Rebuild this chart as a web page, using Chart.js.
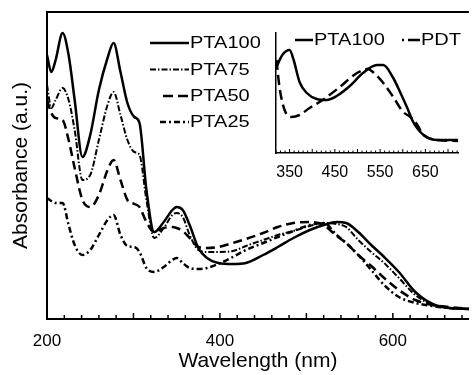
<!DOCTYPE html>
<html>
<head>
<meta charset="utf-8">
<script src="https://cdn.jsdelivr.net/npm/chart.js@4.4.1/dist/chart.umd.min.js"></script>
<style>
  body { margin: 0; background: #fff; }
  #wrap { position: relative; width: 474px; height: 375px; overflow: hidden; }
  #mainChart { position: absolute; left: 0; top: 0; }
  #insetChart { position: absolute; left: 250px; top: 25px; }
</style>
</head>
<body>
<div id="wrap">
  <canvas id="mainChart" width="474" height="375"></canvas>
  <canvas id="insetChart" width="224" height="165"></canvas>
</div>
<script>
// main spectra (a.u.)
var wavelengths = [200, 205, 210, 218, 225, 232, 241, 250, 260, 270, 277, 285, 293, 301, 307, 315, 324, 335, 345, 350, 357,
                   365, 375, 385, 398, 415, 430, 450, 467, 485, 504, 520, 535, 546, 560, 575, 590, 607, 626, 646, 665, 690];
var pta100 = [2.64, 2.47, 2.59, 2.86, 2.64, 2.19, 1.62, 1.84, 2.29, 2.61, 2.76, 2.47, 2.16, 2.02, 1.96, 1.29, 0.87, 0.97, 1.09, 1.12, 1.09,
              0.94, 0.71, 0.61, 0.56, 0.55, 0.56, 0.64, 0.72, 0.81, 0.89, 0.94, 0.97, 0.96, 0.87, 0.74, 0.62, 0.47, 0.27, 0.15, 0.11, 0.10];
var pta75 = [2.34, 2.11, 2.19, 2.31, 2.19, 1.89, 1.39, 1.44, 1.79, 2.14, 2.27, 2.04, 1.79, 1.67, 1.64, 1.19, 0.81, 0.91, 1.04, 1.06, 1.02,
             0.84, 0.69, 0.67, 0.67, 0.68, 0.73, 0.79, 0.84, 0.88, 0.93, 0.96, 0.95, 0.92, 0.79, 0.67, 0.56, 0.41, 0.24, 0.14, 0.11, 0.10];
var pta50 = [2.19, 2.06, 2.01, 1.99, 1.79, 1.51, 1.19, 1.12, 1.24, 1.49, 1.59, 1.39, 1.19, 1.15, 1.12, 0.97, 0.87, 0.91, 0.92, 0.91, 0.88,
             0.81, 0.72, 0.71, 0.72, 0.76, 0.80, 0.86, 0.92, 0.96, 0.97, 0.94, 0.83, 0.76, 0.64, 0.53, 0.41, 0.29, 0.19, 0.14, 0.12, 0.10];
var pta25 = [1.21, 1.18, 1.16, 1.16, 0.94, 0.74, 0.64, 0.69, 0.84, 0.99, 1.04, 0.84, 0.73, 0.72, 0.67, 0.51, 0.47, 0.52, 0.59, 0.61, 0.56,
             0.51, 0.50, 0.51, 0.55, 0.62, 0.69, 0.76, 0.82, 0.88, 0.94, 0.96, 0.84, 0.76, 0.64, 0.49, 0.34, 0.22, 0.16, 0.13, 0.11, 0.10];
var mainLabels = [200, 400, 600];

// inset spectra
var insetWlPta = [321, 334, 350, 359, 372, 388, 410, 432, 454, 483, 512, 543, 557, 579, 594, 610, 623, 646, 677, 722];
var insetPta = [0.86, 0.98, 1.03, 0.93, 0.71, 0.60, 0.54, 0.53, 0.57, 0.67, 0.80, 0.88, 0.88, 0.75, 0.61, 0.45, 0.31, 0.18, 0.13, 0.13];
var insetWlPdt = [321, 328, 339, 354, 372, 394, 423, 461, 499, 523, 534, 557, 579, 601, 617, 628, 646, 677, 722];
var insetPdt = [0.93, 0.65, 0.43, 0.36, 0.38, 0.45, 0.53, 0.66, 0.80, 0.84, 0.81, 0.70, 0.56, 0.41, 0.36, 0.31, 0.18, 0.13, 0.12];
var insetLabels = [350, 450, 550, 650];

function pts(xs, ys) {
    return xs.map(function (x, i) { return { x: x, y: ys[i] }; });
}

Chart.defaults.font.family = '"Liberation Sans", Arial, Helvetica, sans-serif';
Chart.defaults.color = '#000';

// top frame line + inward tick marks on the x axis
var frameTicks = {
    id: 'frameTicks',
    afterDraw: function (chart, args, opts) {
        var ctx = chart.ctx, area = chart.chartArea, xs = chart.scales.x;
        ctx.save();
        ctx.strokeStyle = '#000';
        if (opts.topWidth) {
            ctx.lineWidth = opts.topWidth;
            ctx.beginPath();
            ctx.moveTo(area.left - 1, area.top);
            ctx.lineTo(area.right, area.top);
            ctx.stroke();
        }
        ctx.lineWidth = opts.tickWidth;
        xs.ticks.forEach(function (t) {
            var px = xs.getPixelForValue(t.value);
            var len = t.value % opts.major === 0 ? opts.long : opts.short;
            ctx.beginPath();
            ctx.moveTo(px, area.bottom);
            ctx.lineTo(px, area.bottom - len);
            ctx.stroke();
        });
        ctx.restore();
    }
};

// line-sample legend drawn inside the plot
var lineKey = {
    id: 'lineKey',
    afterDraw: function (chart, args, opts) {
        var ctx = chart.ctx;
        ctx.save();
        ctx.font = opts.font;
        ctx.fillStyle = '#000';
        ctx.textBaseline = 'middle';
        opts.items.forEach(function (it, i) {
            var ds = chart.data.datasets[i];
            ctx.strokeStyle = '#000';
            ctx.lineWidth = ds.borderWidth;
            ctx.setLineDash(it.dash || ds.borderDash || []);
            ctx.beginPath();
            ctx.moveTo(it.x0, it.y);
            ctx.lineTo(it.x1, it.y);
            ctx.stroke();
            ctx.setLineDash([]);
            ctx.save();
            ctx.translate(it.x1 + 1, it.y);
            ctx.scale(opts.stretch, 1);
            ctx.fillText(ds.label, 0, 1);
            ctx.restore();
        });
        ctx.restore();
    }
};

new Chart(document.getElementById('mainChart'), {
    type: 'line',
    data: {
        datasets: [
            { label: 'PTA100', data: pts(wavelengths, pta100), borderColor: '#000', borderWidth: 2.5, borderDash: [] },
            { label: 'PTA75', data: pts(wavelengths, pta75), borderColor: '#000', borderWidth: 2, borderDash: [6, 2, 1.5, 2] },
            { label: 'PTA50', data: pts(wavelengths, pta50), borderColor: '#000', borderWidth: 2.5, borderDash: [9, 5] },
            { label: 'PTA25', data: pts(wavelengths, pta25), borderColor: '#000', borderWidth: 2.5, borderDash: [6, 3, 2, 3] }
        ]
    },
    options: {
        responsive: false,
        animation: false,
        cubicInterpolationMode: 'monotone',
        elements: { point: { radius: 0 } },
        layout: { padding: { top: 12, left: 0, right: 0, bottom: 0 } },
        scales: {
            x: {
                type: 'linear', min: 200, max: 688,
                grid: { display: false, drawTicks: false },
                border: { display: true, color: '#000', width: 2 },
                ticks: {
                    stepSize: 20, includeBounds: false, autoSkip: false, maxRotation: 0, padding: 12,
                    font: { size: 17 },
                    callback: function (v) { return mainLabels.indexOf(v) >= 0 ? String(v) : ''; }
                },
                title: { display: true, text: 'Wavelength (nm)', font: { size: 21 }, padding: { top: 0, bottom: 1 } },
                afterFit: function (s) { s.height = 56; }
            },
            y: {
                min: 0, max: 3.07,
                grid: { display: false, drawTicks: false },
                border: { display: true, color: '#000', width: 2 },
                ticks: { display: false },
                title: { display: true, text: 'Absorbance (a.u.)', font: { size: 21 }, padding: { top: 9, bottom: 0 } },
                afterFit: function (s) { s.width = 47; }
            }
        },
        plugins: {
            legend: { display: false },
            tooltip: { enabled: false },
            frameTicks: { topWidth: 2, tickWidth: 1.5, major: 100, long: 6, short: 4 },
            lineKey: {
                font: '16px "Liberation Sans", Arial, sans-serif', stretch: 1.25,
                items: [
                    { x0: 150, x1: 189, y: 43 },
                    { x0: 150, x1: 189, y: 69.5 },
                    { x0: 163, x1: 189, y: 96, dash: [10, 5] },
                    { x0: 160, x1: 189, y: 122 }
                ]
            }
        }
    },
    plugins: [frameTicks, lineKey]
});

new Chart(document.getElementById('insetChart'), {
    type: 'line',
    data: {
        datasets: [
            { label: 'PTA100', data: pts(insetWlPta, insetPta), borderColor: '#000', borderWidth: 2.5, borderDash: [] },
            { label: 'PDT', data: pts(insetWlPdt, insetPdt), borderColor: '#000', borderWidth: 2.5, borderDash: [10, 5] }
        ]
    },
    options: {
        responsive: false,
        animation: false,
        cubicInterpolationMode: 'monotone',
        elements: { point: { radius: 0 } },
        layout: { padding: { top: 8, left: 0, right: 16, bottom: 0 } },
        scales: {
            x: {
                type: 'linear', min: 320, max: 722,
                grid: { display: false, drawTicks: false },
                border: { display: true, color: '#000', width: 1.5 },
                ticks: {
                    stepSize: 10, includeBounds: false, autoSkip: false, maxRotation: 0, padding: 10,
                    font: { size: 16 },
                    callback: function (v) { return insetLabels.indexOf(v) >= 0 ? String(v) : ''; }
                },
                afterFit: function (s) { s.height = 37; }
            },
            y: {
                min: 0, max: 1.2,
                grid: { display: false, drawTicks: false },
                border: { display: true, color: '#000', width: 1.5 },
                ticks: { display: false },
                afterFit: function (s) { s.width = 26; }
            }
        },
        plugins: {
            legend: { display: false },
            tooltip: { enabled: false },
            frameTicks: { topWidth: 0, tickWidth: 1, major: 50, long: 4, short: 2.5 },
            lineKey: {
                font: '16px "Liberation Sans", Arial, sans-serif', stretch: 1.25,
                items: [
                    { x0: 45, x1: 63, y: 15 },
                    { x0: 152, x1: 170, y: 15, dash: [2, 4, 12] }
                ]
            }
        }
    },
    plugins: [frameTicks, lineKey]
});
</script>
</body>
</html>
